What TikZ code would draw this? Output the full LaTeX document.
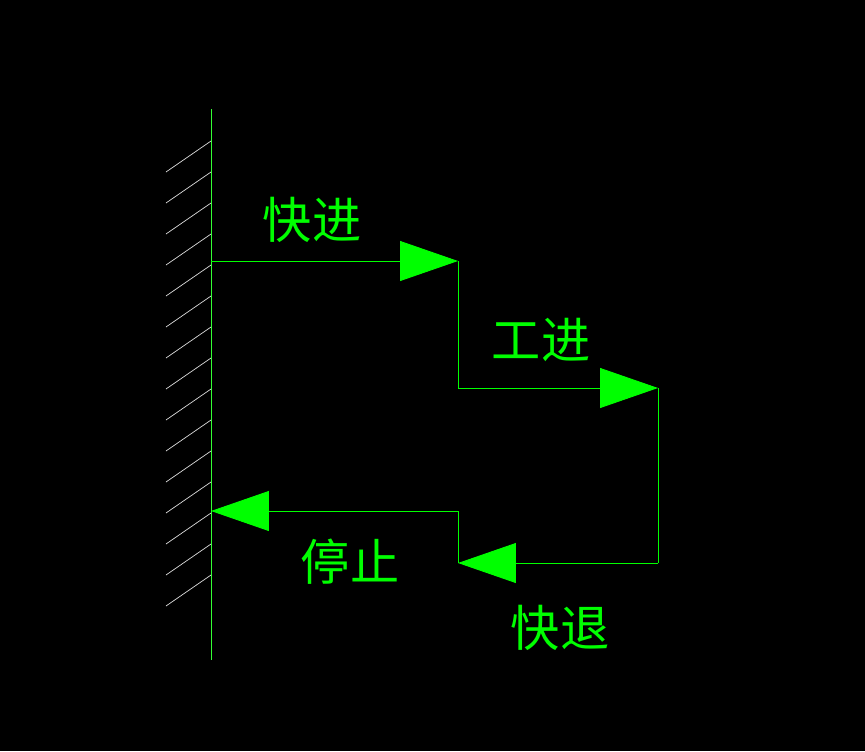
\documentclass[tikz,border=0pt]{standalone}
\usepackage{fontspec}
\newfontfamily\cjk{Noto Sans CJK SC}
\usetikzlibrary{arrows.meta}
\definecolor{wallgray}{RGB}{220,220,220}
\definecolor{linegreen}{RGB}{0,255,0}
\tikzset{
    flow/.style={linegreen, line width=0.5pt},
    tip/.style={-{Triangle[length=1.16cm, width=0.8cm, fill=linegreen]}},
    label/.style={text=linegreen, font=\cjk\fontsize{28}{30}\selectfont, inner sep=0}
}
\begin{document}
\begin{tikzpicture}[x=0.02cm, y=-0.02cm]
                \fill[black] (0,0) rectangle (865,751);

                % Draw wall
                \draw[linegreen!80!white, line width=0.5pt] (211,109) -- (211,660);
                \foreach \j in {0,...,14} {
                    \draw[wallgray] (166,172+\j*31) -- (211,141+\j*31);
                }

                % Points of the path
                \coordinate (start) at (211,261);
                \coordinate (fastend) at (458,261);
                \coordinate (workstart) at (458,388);
                \coordinate (workend) at (658,388);
                \coordinate (backstart) at (658,563);
                \coordinate (backend) at (458,563);
                \coordinate (stopstart) at (458,511);
                \coordinate (stopend) at (211,511);

                % Draw green path
                \draw[flow, tip] (start) -- (fastend);
                \draw[flow] (fastend) -- (workstart);
                \draw[flow, tip] (workstart) -- (workend);
                \draw[flow] (workend) -- (backstart);
                \draw[flow, tip] (backstart) -- (backend);
                \draw[flow] (backend) -- (stopstart);
                \draw[flow, tip] (stopstart) -- (stopend);

                % Labels
                \node[label] (fast) at (312,220) {快进};
                \node[label] (work) at (541,340) {工进};
                \node[label] (stop) at (350,562) {停止};
                \node[label] (back) at (560,628) {快退};
            \end{tikzpicture}
\end{document}
